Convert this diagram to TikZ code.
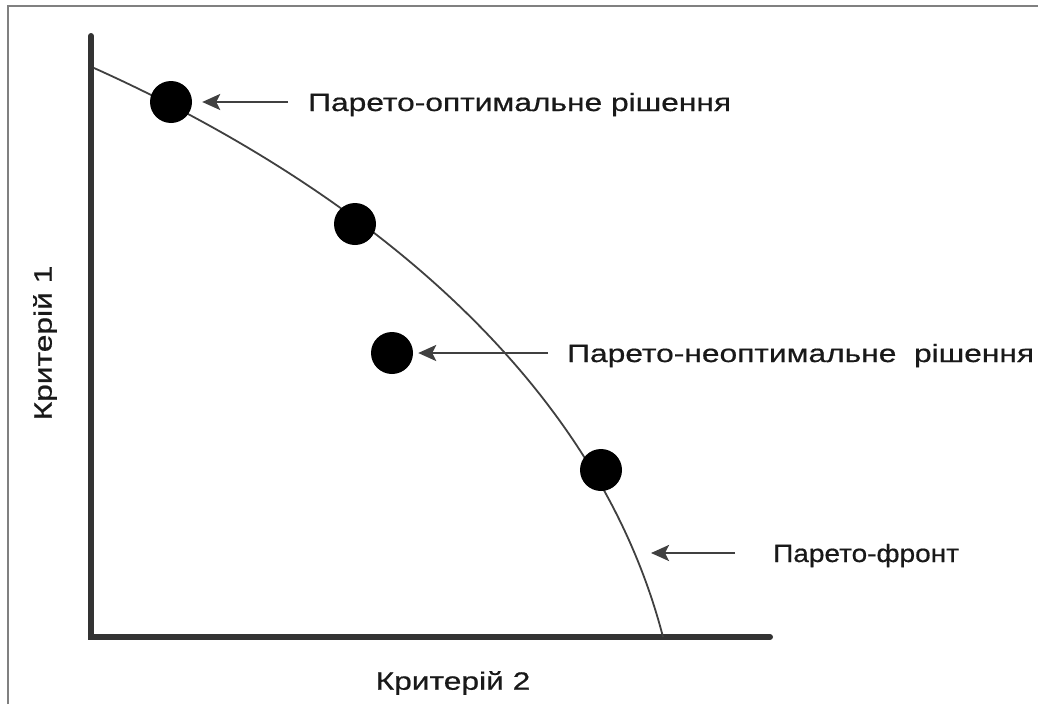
\documentclass[tikz,border=0pt]{standalone}
\usepackage{fontspec}
\setmainfont{Liberation Sans}
\newfontfamily\lblfont[FakeStretch=1.27,FakeBold=0.6]{Liberation Sans}
\newfontfamily\lblfontn[FakeStretch=1.12,FakeBold=0.6]{Liberation Sans}
\usetikzlibrary{arrows.meta}
\begin{document}
\begin{tikzpicture}[x=1pt,y=-1pt,
  axisline/.style={line width=6pt,draw=black!80,line cap=round},
  frontline/.style={line width=1.8pt,draw=black!75},
  dot/.style={circle,fill=black,inner sep=0pt,minimum size=42pt},
  pointer/.style={line width=2.6pt,draw=black!75,-{Stealth[length=18pt,width=16pt,inset=4pt]}},
  lbl/.style={font=\lblfont\fontsize{25}{28}\selectfont,inner sep=0pt,anchor=base west,text=black!90},
  lbln/.style={lbl,font=\lblfontn\fontsize{25}{28}\selectfont}]
\useasboundingbox (0,0) rectangle (1038,704);
\draw[line width=2pt,draw=black!50] (8,704) -- (8,6) -- (1038,6);
% axes
\coordinate (ytop) at (91,36);
\coordinate (origin) at (91,637);
\coordinate (xend) at (770,637);
\draw[axisline] (ytop) -- (origin) -- (xend);
% Pareto front
\coordinate (fs) at (94,68);
\coordinate (fe) at (663,637);
\draw[frontline] (fs) .. controls (330,174) and (591,359) .. (fe);
\coordinate (pf) at (651,553);
% dots
\node[dot] (d1) at (171,102) {};
\node[dot] (d2) at (355,224) {};
\node[dot] (d3) at (392,353) {};
\node[dot] (d4) at (601,470) {};
% labels
\node[lbl] (t1) at (308,111) {Парето-оптимальне рішення};
\node[lbl] (t2) at (567,362) {Парето-неоптимальне\ \ рішення};
\node[lbln] (t3) at (773,562) {Парето-фронт};
\coordinate (a1) at (288,102);
\coordinate (a2) at (548,353);
\coordinate (a3) at (735,553);
\draw[pointer] (a1) -- ([xshift=10pt]d1.east);
\draw[pointer] (a2) -- ([xshift=5pt]d3.east);
\draw[pointer] (a3) -- (pf);
% axis labels
\node[lbl,anchor=center,rotate=90] (c1) at (45,343) {Критерій 1};
\node[lbl,anchor=center] (c2) at (453,683) {Критерій 2};
\end{tikzpicture}
\end{document}
